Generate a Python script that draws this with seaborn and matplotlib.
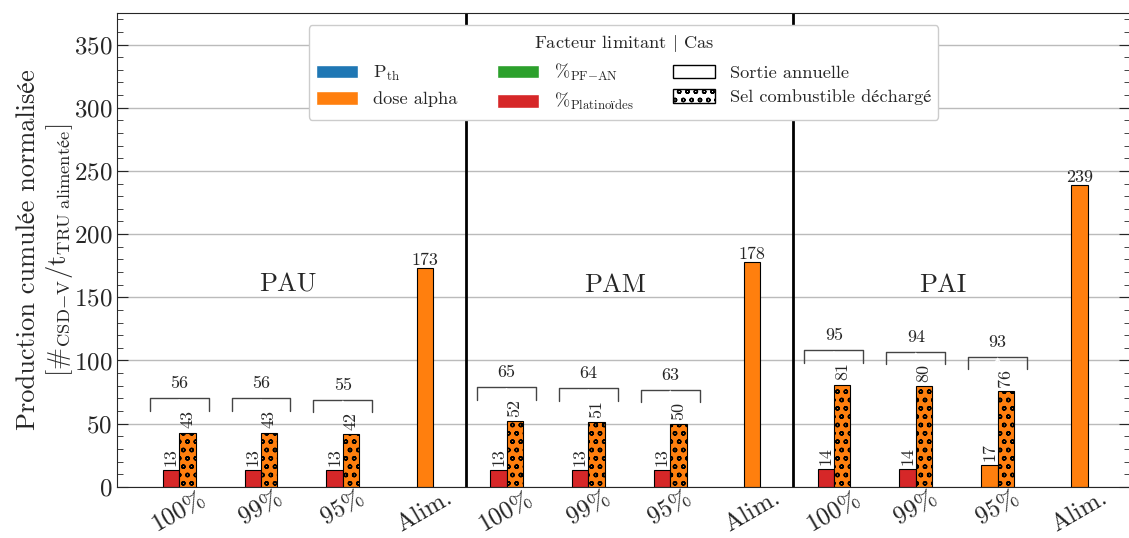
import pandas as pd
import numpy as np
import matplotlib
matplotlib.use("Agg")
import matplotlib.pyplot as plt
import seaborn as sns
from matplotlib.patches import Patch

# --- data -------------------------------------------------------------------
reacteurs = ['PAU', 'PAM', 'PAI']
cas_labels = ['100%', '99%', '95%', 'Alim.']
sortie_annuelle = [[13, 13, 13], [13, 13, 13], [14, 14, 17]]
sortie_facteur = [['%Platinoïdes'] * 3, ['%Platinoïdes'] * 3,
                  ['%Platinoïdes', '%Platinoïdes', 'dose alpha']]
sel_decharge = [[43, 43, 42], [52, 51, 50], [81, 80, 76]]
sel_facteur = [['dose alpha'] * 3] * 3
alimentation = [173, 178, 239]
alim_facteur = ['dose alpha'] * 3

couleurs = {'P_th': '#1f77b4', 'dose alpha': '#ff7f0e',
            '%PF-AN': '#2ca02c', '%Platinoïdes': '#d62728'}

# --- long tables --------------------------------------------------------------
rows_s, rows_h, rows_a = [], [], []
for g in range(len(reacteurs)):
    for i in range(3):
        pos = 4 * g + i
        rows_s.append({'x': pos - 0.1, 'valeur': sortie_annuelle[g][i], 'facteur': sortie_facteur[g][i]})
        rows_h.append({'x': pos + 0.1, 'valeur': sel_decharge[g][i], 'facteur': sel_facteur[g][i]})
    rows_a.append({'x': 4 * g + 3, 'valeur': alimentation[g], 'facteur': alim_facteur[g]})
df_s = pd.DataFrame(rows_s)
df_h = pd.DataFrame(rows_h)
df_a = pd.DataFrame(rows_a)

sns.set_style('ticks')
plt.rcParams['font.family'] = ['cmr10', 'STIXGeneral']
plt.rcParams['mathtext.fontset'] = 'cm'
plt.rcParams['axes.formatter.use_mathtext'] = True
plt.rcParams['hatch.linewidth'] = 1.0

fig = plt.figure(figsize=(11.29, 5.38), dpi=100)
ax = fig.add_axes([0.1036, 0.095, 0.8975, 0.881])

common = dict(hue='facteur', palette=couleurs, native_scale=True, dodge=False, saturation=1,
              errorbar=None, edgecolor='black', linewidth=0.8, legend=False, ax=ax)
sns.barplot(data=df_s, x='x', y='valeur', width=0.2, **common)
n = len(ax.patches)
sns.barplot(data=df_h, x='x', y='valeur', width=0.2, **common)
for p in ax.patches[n:]:
    p.set_hatch('oo')
sns.barplot(data=df_a, x='x', y='valeur', width=0.05, **common)

# value labels
for df in (df_s, df_h):
    for _, r in df.iterrows():
        ax.annotate(f"{r['valeur']:.0f}", (r['x'], r['valeur']), xytext=(0, 3),
                    textcoords='offset points', rotation=90, ha='center', va='bottom', fontsize=13)
for _, r in df_a.iterrows():
    ax.annotate(f"{r['valeur']:.0f}", (r['x'], r['valeur']), xytext=(0, 0),
                textcoords='offset points', ha='center', va='bottom', fontsize=13)

# brackets with totals
for g in range(len(reacteurs)):
    for i in range(3):
        pos = 4 * g + i
        s, h = sortie_annuelle[g][i], sel_decharge[g][i]
        yb = max(s, h) + 27
        ax.plot([pos - 0.36, pos - 0.36, pos + 0.36, pos + 0.36],
                [yb - 10, yb, yb, yb - 10], color='#444444', lw=1)
        ax.annotate('', xy=(pos, yb - 0.3), xytext=(pos, yb - 3.5),
                    arrowprops=dict(arrowstyle='->,head_length=0.4,head_width=0.25', lw=1,
                                    shrinkA=0, shrinkB=0))
        ax.annotate(f"{s + h}", (pos, yb), xytext=(0, 5), textcoords='offset points',
                    ha='center', va='bottom', fontsize=13)
    ax.text(4 * g + 1.33, 160, reacteurs[g], ha='center', va='center', fontsize=19)

for sep in (3.5, 7.5):
    ax.axvline(sep, color='black', lw=2)

ax.set_xticks(range(12))
ax.set_xticklabels(cas_labels * 3, rotation=30, fontsize=18)
ax.set_xlim(-0.76, 11.62)
ax.set_ylim(0, 375)
ax.set_xlabel('')
ax.set_ylabel('Production cumulée normalisée\n'
              r'[#$_{\mathrm{CSD{-}V}}$/t$_{\mathrm{TRU\ alimentée}}$]', fontsize=19, labelpad=-1)
ax.yaxis.set_major_locator(matplotlib.ticker.MultipleLocator(50))
ax.yaxis.set_minor_locator(matplotlib.ticker.MultipleLocator(10))
ax.tick_params(axis='y', which='both', direction='in', left=True, right=True, labelsize=18)
ax.tick_params(axis='y', which='major', length=8)
ax.tick_params(axis='y', which='minor', length=4)
ax.tick_params(axis='x', length=0, pad=0)
ax.grid(axis='y', color='#bbbbbb', lw=1)
ax.set_axisbelow(True)

handles = [Patch(facecolor=couleurs['P_th'], label=r'P$_{\mathrm{th}}$'),
           Patch(facecolor=couleurs['dose alpha'], label='dose alpha'),
           Patch(facecolor=couleurs['%PF-AN'], label=r'%$_{\mathrm{PF{-}AN}}$'),
           Patch(facecolor=couleurs['%Platinoïdes'], label=r'%$_{\mathrm{Platinoïdes}}$'),
           Patch(facecolor='white', edgecolor='black', label='Sortie annuelle'),
           Patch(facecolor='white', edgecolor='black', hatch='oo', label='Sel combustible déchargé')]
ax.legend(handles=handles, ncol=3, loc='upper center', bbox_to_anchor=(0.5, 0.993),
          title=r'Facteur limitant $|$ Cas', fontsize=13.2, title_fontsize=13.2,
          handlelength=2.3, handleheight=0.75, columnspacing=2.15, labelspacing=0.45,
          framealpha=1)

fig.savefig('out.png', dpi=100)
